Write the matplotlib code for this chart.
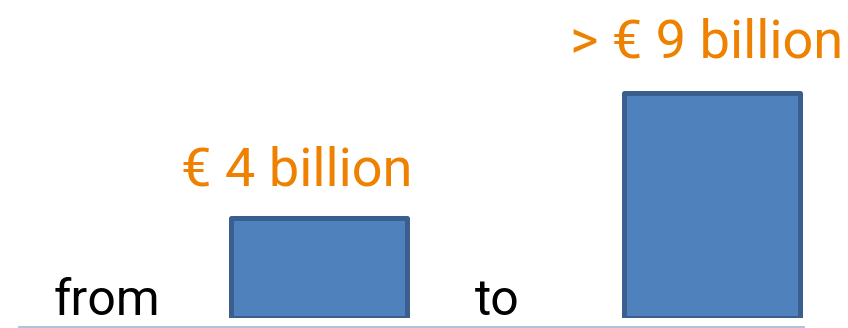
import numpy as np
import matplotlib.pyplot as plt

W, H = 848, 328

# data
categories = ["from", "to"]
values = [4, 9]
labels = ["€ 4 billion", "> € 9 billion"]

fig = plt.figure(figsize=(W / 100, H / 100), dpi=100)
ax = fig.add_axes([0, 10.5 / H, 1, 317.5 / H])
ax.set_axis_off()

x = np.arange(len(values))
ax.bar(x, values, width=176 / 393, color="#4F81BD", edgecolor="#3A5F8E",
       linewidth=3.6, joinstyle="round")
ax.set_xlim(-318.5 / 393, (W - 318.5) / 393)
ax.set_ylim(0, 317.5 / 25)

# thin base line
ax.plot([(19 - 318.5) / 393, (804 - 318.5) / 393], [-0.38, -0.38],
        color="#A7BDD9", lw=1.3, clip_on=False)

# value labels above the bars
offsets = [(-22, 31.5), (-5, 34.5)]
for xi, v, lab, off in zip(x, values, labels, offsets):
    ax.annotate(lab, xy=(xi, v), xytext=off, textcoords="offset pixels",
                ha="center", va="baseline", color="#EE8100", fontsize=39,
                family=["Roboto", "DejaVu Sans"])

# category words left of each bar
word_x = [107, 497.5]
for cat, wx in zip(categories, word_x):
    fig.text(wx / W, (H - 315) / H, cat, ha="center", va="baseline",
             fontsize=36, color="black", family=["Roboto", "DejaVu Sans"])

fig.savefig("out.png", dpi=100)
